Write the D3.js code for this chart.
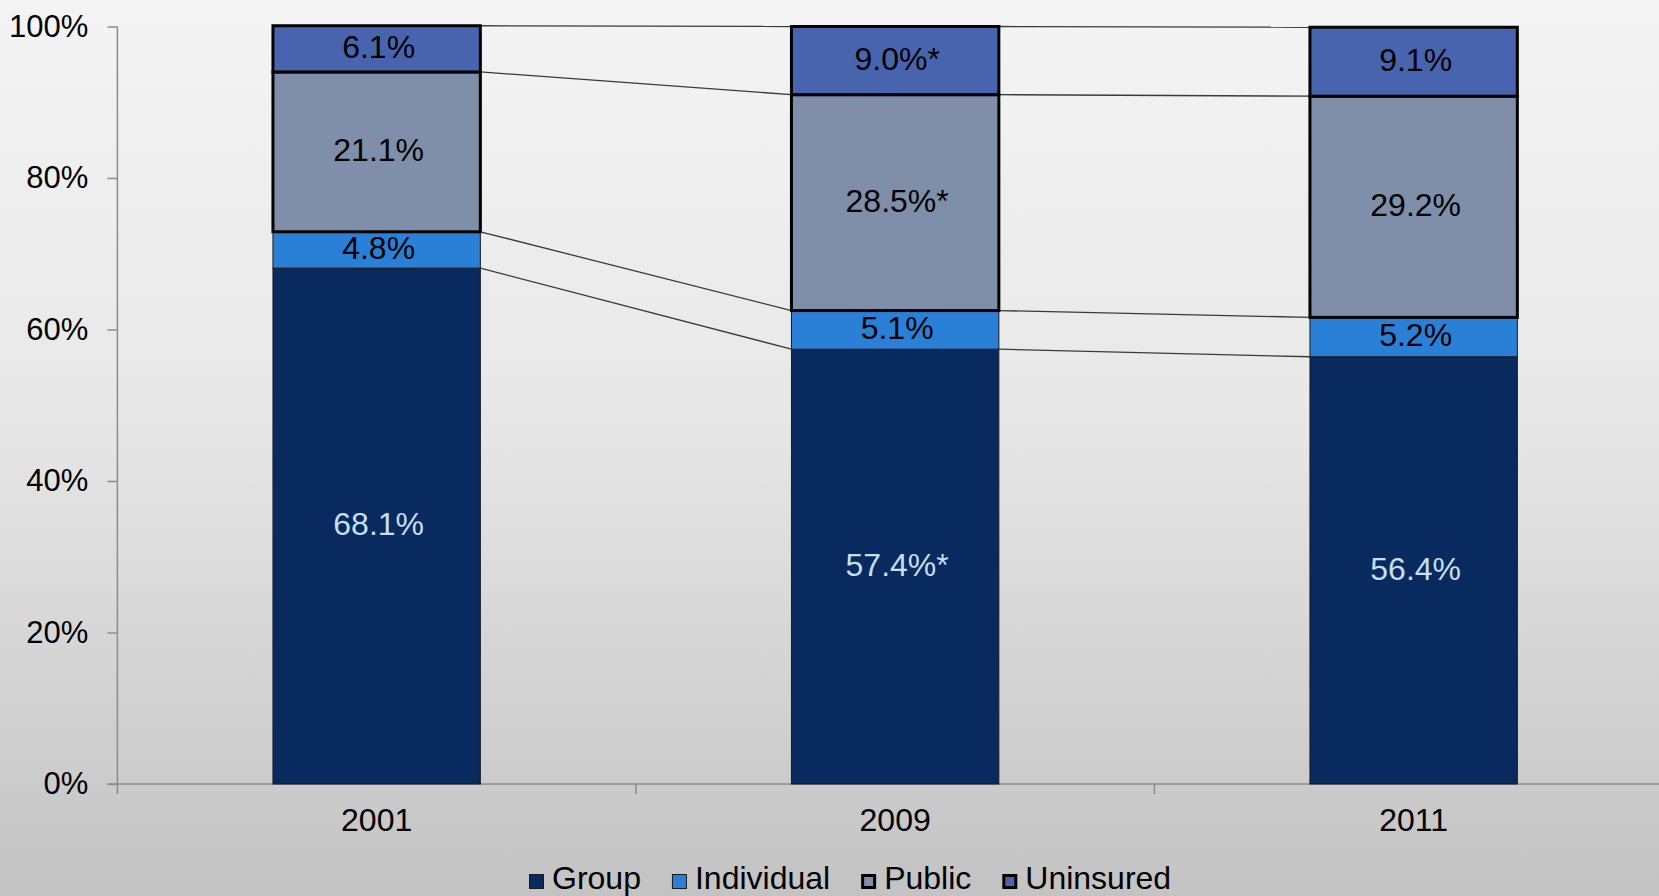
<!DOCTYPE html>
<html>
<head>
<meta charset="utf-8">
<script src="https://cdn.jsdelivr.net/npm/d3@7"></script>
<style>
  html, body { margin: 0; padding: 0; overflow: hidden; }
  svg { display: block; font-family: "Liberation Sans", Arial, sans-serif; }
</style>
</head>
<body>
<svg id="chart" width="1659" height="896"></svg>
<script>
// Coverage share by year (percent of population)
const years = ["2001", "2009", "2011"];
const seriesNames = ["Group", "Individual", "Public", "Uninsured"];
const groupValues = [68.1, 57.4, 56.4];
const individualValues = [4.8, 5.1, 5.2];
const publicValues = [21.1, 28.5, 29.2];
const uninsuredValues = [6.1, 9.0, 9.1];
// Asterisk marks a statistically significant change
const groupLabels = ["68.1%", "57.4%*", "56.4%"];
const individualLabels = ["4.8%", "5.1%", "5.2%"];
const publicLabels = ["21.1%", "28.5%*", "29.2%"];
const uninsuredLabels = ["6.1%", "9.0%*", "9.1%"];
const yTicks = [0, 20, 40, 60, 80, 100];

const valuesBySeries = [groupValues, individualValues, publicValues, uninsuredValues];
const labelsBySeries = [groupLabels, individualLabels, publicLabels, uninsuredLabels];
const rows = years.map((yr, i) => {
  const r = { year: yr };
  seriesNames.forEach((s, k) => r[s] = valuesBySeries[k][i]);
  return r;
});

const fills = { Group: "#082a5e", Individual: "#2a7fd6", Public: "#7f8ea9", Uninsured: "#4864ae" };
const strokes = { Group: "#1a1a1a", Individual: "#1a1a1a", Public: "#000", Uninsured: "#000" };
const strokeW = { Group: 1, Individual: 1, Public: 3, Uninsured: 3 };
const labelColor = { Group: "#c6dff0", Individual: "#000", Public: "#000", Uninsured: "#000" };

const svg = d3.select("#chart");
const W = 1659, H = 896;

// background gradient
const defs = svg.append("defs");
const grad = defs.append("linearGradient").attr("id", "bg").attr("x1", 0).attr("y1", 0).attr("x2", 0).attr("y2", 1);
grad.append("stop").attr("offset", "0%").attr("stop-color", "#f4f4f4");
grad.append("stop").attr("offset", "45%").attr("stop-color", "#e8e8e8");
grad.append("stop").attr("offset", "100%").attr("stop-color", "#c3c3c3");
svg.append("rect").attr("width", W).attr("height", H).attr("fill", "url(#bg)");

const plotLeft = 117.4, plotTop = 26.5, plotBottom = 784;
const step = 518.5;
const x = d3.scaleBand().domain(years)
  .range([plotLeft, plotLeft + step * years.length])
  .paddingInner(0.6).paddingOuter(0.3);
const y = d3.scaleLinear().domain([0, 100]).range([plotBottom, plotTop]);

const stacked = d3.stack().keys(seriesNames)(rows);

// axes
const axisColor = "#8c8c8c";
const yAxis = svg.append("g").attr("transform", `translate(${plotLeft},0)`)
  .call(d3.axisLeft(y).tickValues(yTicks).tickFormat(d => d + "%").tickSize(10).tickPadding(19));
yAxis.select(".domain").remove();
yAxis.selectAll(".tick line").attr("stroke", axisColor).attr("stroke-width", 1.5);
yAxis.selectAll(".tick text").attr("font-size", 31).attr("fill", "#000")
  .attr("font-family", "Liberation Sans, Arial, sans-serif");
// vertical axis line, extending slightly below the baseline
svg.append("line").attr("x1", plotLeft).attr("x2", plotLeft).attr("y1", y(100)).attr("y2", plotBottom + 10)
  .attr("stroke", axisColor).attr("stroke-width", 1.5);

const xAxis = svg.append("g").attr("transform", `translate(0,${plotBottom})`)
  .call(d3.axisBottom(x).tickSize(0).tickPadding(24));
xAxis.select(".domain").remove();
xAxis.selectAll(".tick text").attr("font-size", 32).attr("fill", "#000")
  .attr("font-family", "Liberation Sans, Arial, sans-serif");
svg.append("line").attr("x1", plotLeft - 10).attr("x2", W).attr("y1", plotBottom).attr("y2", plotBottom)
  .attr("stroke", axisColor).attr("stroke-width", 1.5);
// category boundary ticks
const gapHalf = (x.step() - x.bandwidth()) / 2;
svg.append("g").selectAll("line").data(years.slice(1)).join("line")
  .attr("x1", d => x(d) - gapHalf)
  .attr("x2", d => x(d) - gapHalf)
  .attr("y1", plotBottom).attr("y2", plotBottom + 10)
  .attr("stroke", axisColor).attr("stroke-width", 1.5);

// series lines between bars
const lineG = svg.append("g");
stacked.forEach(layer => {
  for (let i = 0; i < years.length - 1; i++) {
    lineG.append("line")
      .attr("x1", x(years[i]) + x.bandwidth())
      .attr("y1", y(layer[i][1]))
      .attr("x2", x(years[i + 1]))
      .attr("y2", y(layer[i + 1][1]))
      .attr("stroke", "#3a3a3a").attr("stroke-width", 1.3);
  }
});

// bars: thin-outlined series first, heavy-outlined ones on top
stacked.forEach(layer => {
  const name = layer.key;
  svg.append("g").selectAll("rect").data(layer).join("rect")
    .attr("x", (d, i) => x(years[i]))
    .attr("y", d => y(d[1]))
    .attr("width", x.bandwidth())
    .attr("height", d => y(d[0]) - y(d[1]))
    .attr("fill", fills[name])
    .attr("stroke", strokes[name])
    .attr("stroke-width", strokeW[name]);
});

// value labels
stacked.forEach(layer => {
  const k = seriesNames.indexOf(layer.key);
  svg.append("g").selectAll("text").data(layer).join("text")
    .attr("x", (d, i) => x(years[i]) + x.bandwidth() / 2 + 2)
    .attr("y", d => y((d[0] + d[1]) / 2) - 2)
    .attr("dy", "0.35em")
    .attr("text-anchor", "middle")
    .attr("font-size", 32)
    .attr("fill", labelColor[layer.key])
    .text((d, i) => labelsBySeries[k][i]);
});

// legend
const legend = svg.append("g");
let lx = 529;
const ly = 889;
seriesNames.forEach(name => {
  legend.append("rect")
    .attr("x", lx + strokeW[name] / 2).attr("y", ly - 15 + strokeW[name] / 2)
    .attr("width", 15 - strokeW[name]).attr("height", 15 - strokeW[name])
    .attr("fill", fills[name]).attr("stroke", strokes[name]).attr("stroke-width", strokeW[name]);
  const t = legend.append("text").attr("x", lx + 23).attr("y", ly)
    .attr("font-size", 32).attr("fill", "#000").text(name);
  lx += 23 + t.node().getComputedTextLength() + 31;
});
</script>
</body>
</html>
